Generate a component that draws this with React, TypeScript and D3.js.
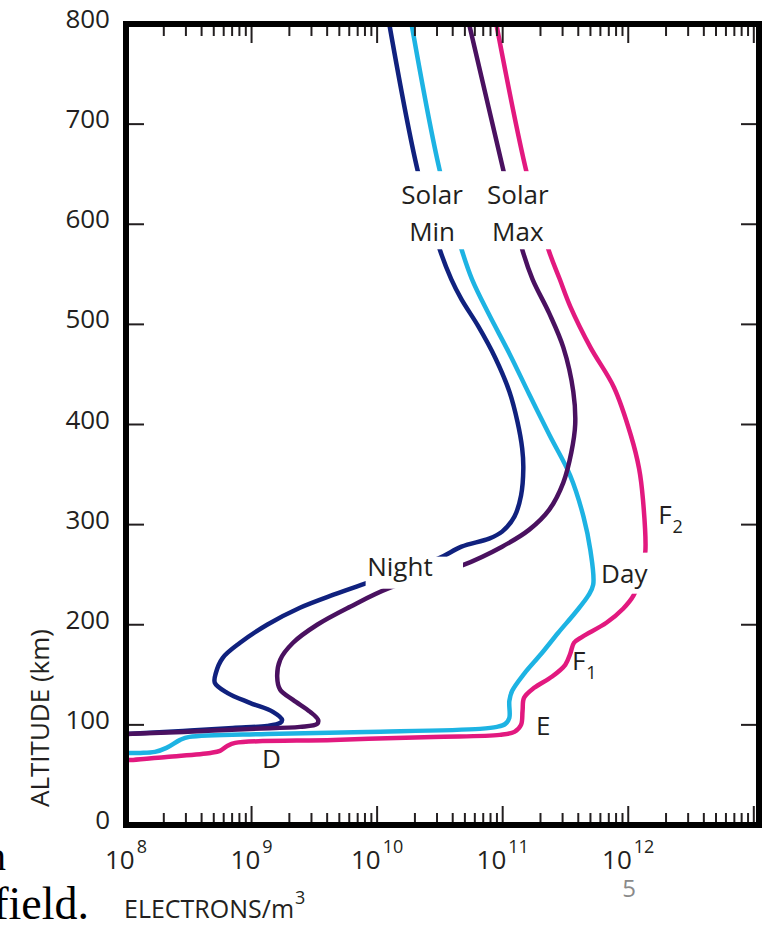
import React, { useEffect, useRef } from 'react';
import * as d3 from 'd3';

const WIDTH = 769;
const HEIGHT = 926;

// [electrons per m^3, altitude km], top to bottom
const nightSolarMin: [number, number][] = [
  [1.25e10, 800], [2.1e10, 654], [3.15e10, 575], [3.9e10, 545], [4.7e10, 525],
  [6.4e10, 498], [8.7e10, 467], [1.13e11, 433], [1.31e11, 403], [1.43e11, 376],
  [1.46e11, 356], [1.4e11, 329], [1.24e11, 308], [9.9e10, 293], [7.8e10, 286],
  [4.7e10, 278], [3.06e10, 266], [8.0e9, 241], [4.5e9, 230], [2.43e9, 217],
  [1.33e9, 200], [8.1e8, 182], [5.9e8, 167], [5.2e8, 152], [5.1e8, 142],
  [6.4e8, 132], [9.7e8, 122], [1.48e9, 113], [1.75e9, 105], [1.69e9, 102],
  [1.33e9, 99], [7.1e8, 97], [2.85e8, 94], [1e8, 91],
];

const nightSolarMax: [number, number][] = [
  [5.4e10, 800], [1.03e11, 650], [1.43e11, 575], [1.73e11, 545], [2.35e11, 511],
  [3.04e11, 477], [3.65e11, 433], [3.78e11, 400], [3.52e11, 372], [3.04e11, 342],
  [2.35e11, 315], [1.63e11, 295], [9.9e10, 278], [4.7e10, 259], [1.27e10, 237],
  [6.1e9, 218], [3.33e9, 200], [2.14e9, 182], [1.69e9, 165], [1.6e9, 148],
  [1.69e9, 135], [2.14e9, 125], [2.93e9, 113], [3.39e9, 105], [3.33e9, 101],
  [2.43e9, 98], [9.7e8, 96], [2.85e8, 93], [1e8, 91],
];

const daySolarMin: [number, number][] = [
  [1.88e10, 800], [3.15e10, 654], [4.7e10, 575], [5.7e10, 545], [7.7e10, 511],
  [1.13e11, 471], [1.63e11, 430], [2.37e11, 389], [3.45e11, 349], [4.4e11, 308],
  [5.0e11, 274], [5.26e11, 240], [4.8e11, 229], [3.78e11, 212], [2.77e11, 192],
  [2.03e11, 171], [1.48e11, 151], [1.19e11, 134], [1.13e11, 124], [1.13e11, 107],
  [1.05e11, 101], [9.0e10, 98], [6.6e10, 96], [8.3e9, 93], [1.33e9, 91],
  [3.2e8, 88], [2.7e8, 85], [2.1e8, 77], [1.7e8, 73], [1.3e8, 72], [1e8, 72],
];

const daySolarMax: [number, number][] = [
  [8.9e10, 800], [1.57e11, 649], [2.31e11, 575], [2.85e11, 545], [3.45e11, 518],
  [5.0e11, 477], [7.7e11, 437], [1.05e12, 389], [1.22e12, 356], [1.31e12, 325],
  [1.37e12, 274], [1.29e12, 253], [1.1e12, 229], [9.1e11, 216], [6.7e11, 202],
  [4.3e11, 188], [3.7e11, 182], [3.45e11, 171], [3.15e11, 160], [2.46e11, 148],
  [1.78e11, 137], [1.48e11, 127], [1.44e11, 114], [1.4e11, 100], [1.24e11, 93],
  [9.5e10, 90], [2.8e10, 88], [4.5e9, 85], [7.4e8, 82], [6.4e8, 79],
  [5.6e8, 74], [4.7e8, 72], [2.1e8, 68], [1.14e8, 65], [1e8, 65],
];

const altitudeTicks = [0, 100, 200, 300, 400, 500, 600, 700, 800];
const decadeExponents = [8, 9, 10, 11, 12];

const curves = [
  { name: 'night-min', color: '#10217e', points: nightSolarMin },
  { name: 'day-min', color: '#1db3e3', points: daySolarMin },
  { name: 'night-max', color: '#4a1160', points: nightSolarMax },
  { name: 'day-max', color: '#e2197f', points: daySolarMax },
];

// curve labels: anchor [density, altitude], white knockout box [d0, d1, altTop, altBottom]
const curveLabels = [
  { lines: ['Solar', 'Min'], at: [2.74e10, 620], anchor: 'middle', box: [1.39e10, 5.1e10, 653, 575] },
  { lines: ['Solar', 'Max'], at: [1.32e11, 620], anchor: 'middle', box: [6.8e10, 2.56e11, 653, 575] },
  { lines: ['Night'], at: [1.52e10, 249], anchor: 'middle', box: [8.1e9, 4.83e10, 268, 236] },
  { lines: ['Day'], at: [9.3e11, 242], anchor: 'middle', box: [5.85e11, 1.52e12, 272, 231] },
];

const layerLabels = [
  { main: 'F', sub: '2', at: [1.73e12, 301] },
  { main: 'F', sub: '1', at: [3.56e11, 155] },
  { main: 'E', sub: '', at: [1.84e11, 90] },
  { main: 'D', sub: '', at: [1.21e9, 57] },
];

const FONT = "'Open Sans', sans-serif";
const INK = '#231f20';

export default function App() {
  const ref = useRef<SVGSVGElement>(null);

  useEffect(() => {
    const svg = d3.select(ref.current);
    svg.selectAll('*').remove();

    const x = d3.scaleLog().domain([1e8, 1.1e13]).range([126, 759]);
    const y = d3.scaleLinear().domain([0, 800]).range([825, 24]);

    svg.append('rect').attr('width', WIDTH).attr('height', HEIGHT).attr('fill', '#fff');

    const line = d3.line<[number, number]>()
      .x((d) => x(d[0]))
      .y((d) => y(d[1]))
      .curve(d3.curveCatmullRom.alpha(0.5));

    svg.selectAll('.curve')
      .data(curves)
      .enter()
      .append('path')
        .attr('class', 'curve')
        .attr('d', (d) => line(d.points))
        .attr('fill', 'none')
        .attr('stroke', (d) => d.color)
        .attr('stroke-width', 4.5)
        .attr('stroke-linejoin', 'round');

    // white boxes behind the curve labels, like the cut-outs in the original
    curveLabels.forEach((l) => {
      const [d0, d1, a0, a1] = l.box;
      svg.append('rect')
        .attr('x', x(d0))
        .attr('y', y(a0))
        .attr('width', x(d1) - x(d0))
        .attr('height', y(a1) - y(a0))
        .attr('fill', '#fff');
      l.lines.forEach((t, i) => {
        svg.append('text')
          .attr('x', x(l.at[0]))
          .attr('y', y(l.at[1]) + i * 37)
          .attr('text-anchor', l.anchor)
          .attr('font-family', FONT)
          .attr('font-size', 26)
          .attr('fill', INK)
          .text(t);
      });
    });

    layerLabels.forEach((l) => {
      const t = svg.append('text')
        .attr('x', x(l.at[0]))
        .attr('y', y(l.at[1]))
        .attr('font-family', FONT)
        .attr('font-size', 26)
        .attr('fill', INK);
      t.append('tspan').text(l.main);
      if (l.sub) {
        t.append('tspan').attr('dx', 1).attr('dy', 9).attr('font-size', 18).text(l.sub);
      }
    });

    // axis ticks (all pointing inward)
    const ticks = svg.append('g').attr('stroke', INK).attr('stroke-width', 2);
    decadeExponents.forEach((e) => {
      d3.range(2, 11).forEach((k) => {
        const v = k * Math.pow(10, e);
        const len = k === 10 ? 19 : 12;
        ticks.append('line')
          .attr('x1', x(v)).attr('x2', x(v))
          .attr('y1', y(0)).attr('y2', y(0) - len);
        ticks.append('line')
          .attr('x1', x(v)).attr('x2', x(v))
          .attr('y1', y(800)).attr('y2', y(800) + len);
      });
    });
    altitudeTicks.slice(1, -1).forEach((a) => {
      ticks.append('line')
        .attr('x1', x.range()[0]).attr('x2', x.range()[0] + 18)
        .attr('y1', y(a)).attr('y2', y(a));
      ticks.append('line')
        .attr('x1', x.range()[1]).attr('x2', x.range()[1] - 18)
        .attr('y1', y(a)).attr('y2', y(a));
    });

    // frame
    svg.append('rect')
      .attr('x', x.range()[0])
      .attr('y', y(800))
      .attr('width', x.range()[1] - x.range()[0])
      .attr('height', y(0) - y(800))
      .attr('fill', 'none')
      .attr('stroke', '#000')
      .attr('stroke-width', 6);

    // y tick labels
    svg.selectAll('.ylab')
      .data(altitudeTicks)
      .enter()
      .append('text')
        .attr('class', 'ylab')
        .attr('x', 110)
        .attr('y', (d) => y(d) + 4)
        .attr('text-anchor', 'end')
        .attr('font-family', FONT)
        .attr('font-size', 26)
        .attr('fill', INK)
        .text((d) => d);

    // x tick labels 10^n
    decadeExponents.forEach((e) => {
      const t = svg.append('text')
        .attr('x', x(Math.pow(10, e)))
        .attr('y', y(0) + 44)
        .attr('text-anchor', 'middle')
        .attr('font-family', FONT)
        .attr('font-size', 26)
        .attr('fill', INK);
      t.append('tspan').text('10');
      t.append('tspan').attr('dx', 2).attr('dy', -16).attr('font-size', 18).text(e);
    });

    // axis titles
    const xt = svg.append('text')
      .attr('x', 124)
      .attr('y', 918)
      .attr('font-family', FONT)
      .attr('font-size', 25)
      .attr('fill', INK);
    xt.append('tspan').text('ELECTRONS/m');
    xt.append('tspan').attr('dx', 1).attr('dy', -14).attr('font-size', 18).text('3');

    svg.append('text')
      .attr('transform', 'translate(49,718) rotate(-90)')
      .attr('text-anchor', 'middle')
      .attr('font-family', FONT)
      .attr('font-size', 26)
      .attr('fill', INK)
      .text('ALTITUDE (km)');

    // leftovers of the slide around the figure
    svg.append('text')
      .attr('x', 6).attr('y', 870)
      .attr('text-anchor', 'end')
      .attr('font-family', "'Liberation Serif', serif")
      .attr('font-size', 40)
      .attr('fill', '#000')
      .text('n');
    svg.append('text')
      .attr('x', 89).attr('y', 919)
      .attr('text-anchor', 'end')
      .attr('font-family', "'Liberation Serif', serif")
      .attr('font-size', 46)
      .attr('fill', '#000')
      .text('field.');
    svg.append('text')
      .attr('x', 629).attr('y', 897)
      .attr('text-anchor', 'middle')
      .attr('font-family', FONT)
      .attr('font-size', 24)
      .attr('fill', '#8a8a8a')
      .text('5');
  }, []);

  return (
    <svg
      ref={ref}
      width={WIDTH}
      height={HEIGHT}
      style={{ position: 'absolute', left: 0, top: 0, display: 'block' }}
    />
  );
}
